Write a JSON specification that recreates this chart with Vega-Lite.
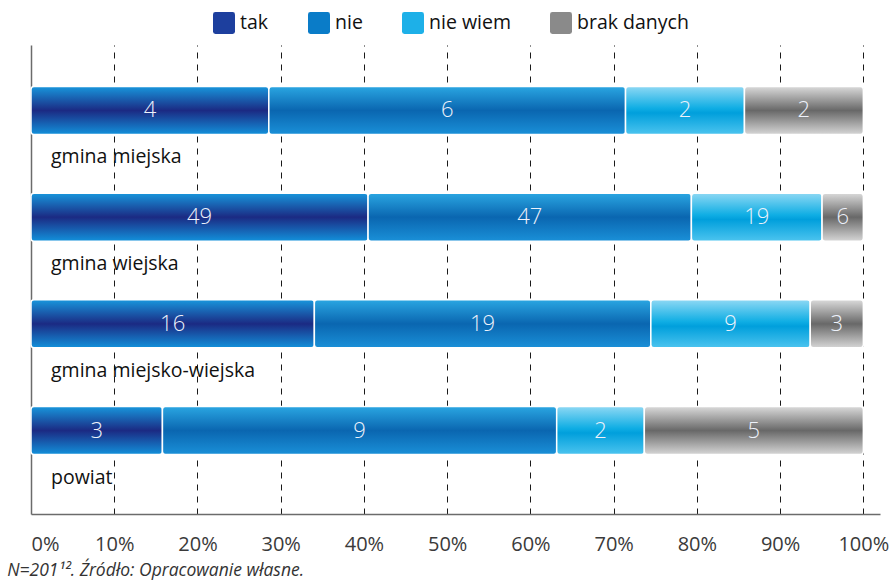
{
  "$schema": "https://vega.github.io/schema/vega-lite/v6.json",
  "autosize": {"type": "none"},
  "width": 849,
  "height": 469,
  "padding": {"left": 31, "top": 45, "right": 12, "bottom": 68},
  "background": "white",
  "config": {
    "view": {"stroke": null},
    "font": "Open Sans"
  },
  "title": {
    "text": "N=201¹². Źródło: Opracowanie własne.",
    "orient": "bottom",
    "anchor": "start",
    "fontStyle": "italic",
    "fontWeight": "normal",
    "fontSize": 17.5,
    "color": "#333333",
    "font": "Open Sans",
    "offset": 8,
    "dx": -23
  },
  "data": {
    "values": [
      {"category": "gmina miejska", "series": "tak", "ord": 1, "count": 4},
      {"category": "gmina miejska", "series": "nie", "ord": 2, "count": 6},
      {"category": "gmina miejska", "series": "nie wiem", "ord": 3, "count": 2},
      {"category": "gmina miejska", "series": "brak danych", "ord": 4, "count": 2},
      {"category": "gmina wiejska", "series": "tak", "ord": 1, "count": 49},
      {"category": "gmina wiejska", "series": "nie", "ord": 2, "count": 47},
      {"category": "gmina wiejska", "series": "nie wiem", "ord": 3, "count": 19},
      {"category": "gmina wiejska", "series": "brak danych", "ord": 4, "count": 6},
      {"category": "gmina miejsko-wiejska", "series": "tak", "ord": 1, "count": 16},
      {"category": "gmina miejsko-wiejska", "series": "nie", "ord": 2, "count": 19},
      {"category": "gmina miejsko-wiejska", "series": "nie wiem", "ord": 3, "count": 9},
      {"category": "gmina miejsko-wiejska", "series": "brak danych", "ord": 4, "count": 3},
      {"category": "powiat", "series": "tak", "ord": 1, "count": 3},
      {"category": "powiat", "series": "nie", "ord": 2, "count": 9},
      {"category": "powiat", "series": "nie wiem", "ord": 3, "count": 2},
      {"category": "powiat", "series": "brak danych", "ord": 4, "count": 5}
    ]
  },
  "transform": [
    {"stack": "count", "groupby": ["category"], "sort": [{"field": "ord", "order": "ascending"}], "offset": "normalize", "as": ["x0", "x1"]},
    {"calculate": "(datum.x0 + datum.x1) / 2", "as": "xmid"}
  ],
  "encoding": {
    "y": {
      "field": "category",
      "type": "nominal",
      "sort": ["gmina miejska", "gmina wiejska", "gmina miejsko-wiejska", "powiat"],
      "scale": {"paddingInner": 0.55, "paddingOuter": 0.473, "align": 0.411},
      "axis": {"title": null, "labels": false, "ticks": false, "grid": false, "domain": true, "domainColor": "#6b6b6b", "domainWidth": 1.5}
    }
  },
  "layer": [
    {
      "mark": {"type": "bar", "cornerRadius": 3, "stroke": "white", "strokeWidth": 1.5},
      "encoding": {
        "x": {
          "field": "x0",
          "type": "quantitative",
          "scale": {"domain": [0, 1.02], "nice": false, "zero": true},
          "axis": {
            "title": null,
            "values": [0, 0.1, 0.2, 0.3, 0.4, 0.5, 0.6, 0.7, 0.8, 0.9, 1],
            "format": ".0%",
            "labelFontSize": 20,
            "labelColor": "#3a3a3a",
            "labelFont": "Open Sans",
            "labelPadding": 20,
            "ticks": false,
            "domain": true,
            "domainColor": "#6b6b6b",
            "domainWidth": 1.5,
            "grid": true,
            "gridColor": "#1a1a1a",
            "gridDash": [6, 6],
            "gridWidth": 1,
            "gridOpacity": {"condition": {"test": "datum.value === 0", "value": 0}, "value": 1}
          }
        },
        "x2": {"field": "x1"},
        "fill": {
          "field": "series",
          "type": "nominal",
          "scale": {
            "domain": ["tak", "nie", "nie wiem", "brak danych"],
            "range": ["#1d3f9e", "#0a7cc8", "#1db0e8", "#8a8a8a"]
          },
          "legend": {
            "title": null,
            "orient": "none",
            "direction": "horizontal",
            "legendX": 182,
            "legendY": -33,
            "symbolType": "M-0.78,-1L0.78,-1Q1,-1 1,-0.78L1,0.78Q1,1 0.78,1L-0.78,1Q-1,1 -1,0.78L-1,-0.78Q-1,-1 -0.78,-1Z",
            "symbolSize": 484,
            "symbolStrokeWidth": 0,
            "labelFontSize": 19.5,
            "labelFont": "Open Sans",
            "labelColor": "#111111",
            "labelOffset": 5,
            "labelLimit": 300,
            "columnPadding": 39
          },
          "condition": [
            {"test": "datum.series === 'tak'", "value": {"gradient": "linear", "x1": 0, "y1": 0, "x2": 0, "y2": 1, "stops": [{"offset": 0, "color": "#1896dc"}, {"offset": 0.5, "color": "#1b2a83"}, {"offset": 1, "color": "#1291db"}]}},
            {"test": "datum.series === 'nie'", "value": {"gradient": "linear", "x1": 0, "y1": 0, "x2": 0, "y2": 1, "stops": [{"offset": 0, "color": "#2aa6e2"}, {"offset": 0.5, "color": "#0a66b0"}, {"offset": 1, "color": "#1a90d8"}]}},
            {"test": "datum.series === 'nie wiem'", "value": {"gradient": "linear", "x1": 0, "y1": 0, "x2": 0, "y2": 1, "stops": [{"offset": 0, "color": "#8dd8f4"}, {"offset": 0.45, "color": "#10aee4"}, {"offset": 0.55, "color": "#009fdc"}, {"offset": 1, "color": "#4cc4ef"}]}},
            {"test": "datum.series === 'brak danych'", "value": {"gradient": "linear", "x1": 0, "y1": 0, "x2": 0, "y2": 1, "stops": [{"offset": 0, "color": "#dadada"}, {"offset": 0.5, "color": "#686868"}, {"offset": 1, "color": "#d6d6d6"}]}}
          ]
        }
      }
    },
    {
      "mark": {"type": "text", "fontSize": 22, "font": "Open Sans", "fontWeight": 300, "fill": "#eef2fb", "align": "center", "baseline": "middle"},
      "encoding": {
        "x": {"field": "xmid", "type": "quantitative"},
        "text": {"field": "count", "type": "quantitative"}
      }
    },
    {
      "transform": [{"filter": "datum.ord === 1"}],
      "mark": {"type": "text", "fontSize": 19.5, "font": "Open Sans", "fill": "#111111", "align": "left", "baseline": "middle", "dx": 20, "dy": 47},
      "encoding": {
        "x": {"datum": 0, "type": "quantitative"},
        "text": {"field": "category", "type": "nominal"}
      }
    }
  ]
}
